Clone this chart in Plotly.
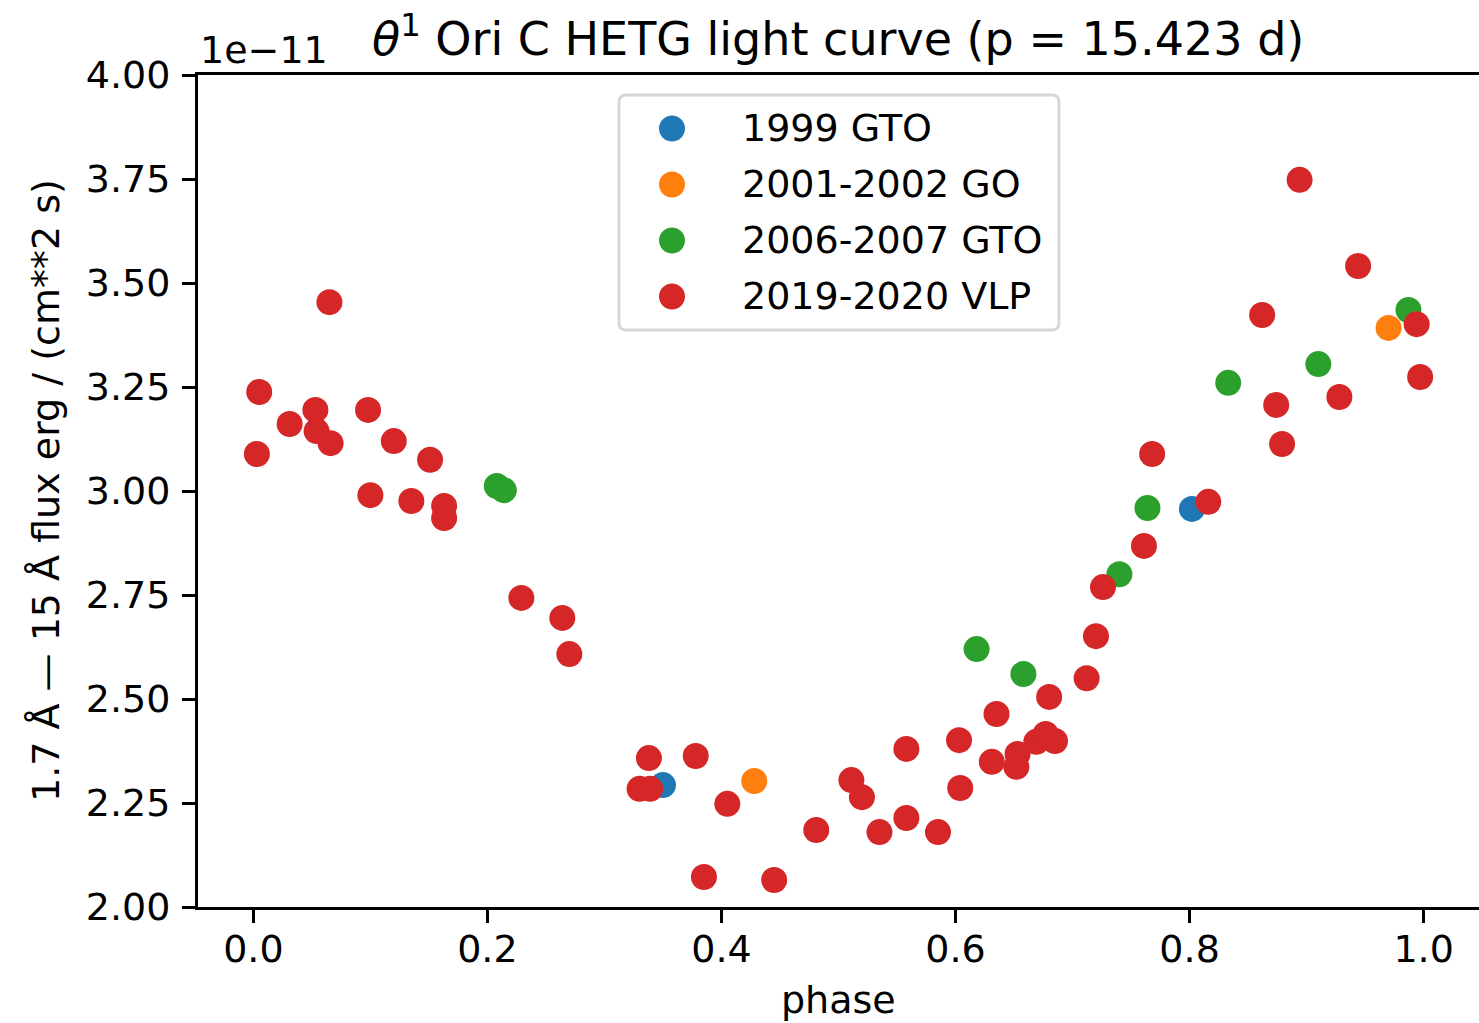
import plotly.graph_objects as go

# ---------------- data (flux in units of 1e-11 erg / (cm**2 s)) ----------------
groups = ["1999 GTO", "2001-2002 GO", "2006-2007 GTO", "2019-2020 VLP"]
colors = ["#1f77b4", "#ff7f0e", "#2ca02c", "#d62728"]

phase_1999 = [0.350, 0.802]
flux_1999 = [2.293, 2.957]

phase_2001 = [0.428, 0.970]
flux_2001 = [2.303, 3.392]

phase_2006 = [0.208, 0.214, 0.618, 0.658, 0.740, 0.764, 0.833, 0.910, 0.987]
flux_2006 = [3.012, 3.002, 2.620, 2.560, 2.800, 2.959, 3.260, 3.305, 3.435]

phase_2019 = [0.003, 0.005, 0.031, 0.053, 0.054, 0.065, 0.066, 0.098, 0.100, 0.120,
              0.135, 0.151, 0.163, 0.163, 0.229, 0.264, 0.270, 0.330, 0.338, 0.339,
              0.378, 0.385, 0.405, 0.445, 0.481, 0.511, 0.520, 0.535, 0.558, 0.558,
              0.585, 0.603, 0.604, 0.631, 0.635, 0.653, 0.652, 0.669, 0.677, 0.680,
              0.685, 0.712, 0.720, 0.726, 0.761, 0.768, 0.816, 0.862, 0.874, 0.879,
              0.894, 0.928, 0.944, 0.994, 0.997]
flux_2019 = [3.089, 3.238, 3.161, 3.195, 3.144, 3.454, 3.115, 3.195, 2.990, 3.120,
             2.976, 3.075, 2.964, 2.935, 2.743, 2.695, 2.608, 2.284, 2.358, 2.284,
             2.363, 2.072, 2.248, 2.065, 2.185, 2.305, 2.264, 2.180, 2.214, 2.380,
             2.180, 2.401, 2.286, 2.349, 2.464, 2.368, 2.337, 2.397, 2.416, 2.505,
             2.399, 2.550, 2.651, 2.769, 2.868, 3.089, 2.974, 3.423, 3.207, 3.113,
             3.748, 3.226, 3.541, 3.401, 3.274]

phases = [phase_1999, phase_2001, phase_2006, phase_2019]
fluxes = [flux_1999, flux_2001, flux_2006, flux_2019]

x_ticks = [0.0, 0.2, 0.4, 0.6, 0.8, 1.0]
y_ticks = [2.00, 2.25, 2.50, 2.75, 3.00, 3.25, 3.50, 3.75, 4.00]

# ---------------- layout geometry ----------------
FIG_W, FIG_H = 1479, 1023
L, T, R, B = 198, 75, 0, 116
W = FIG_W - L - R
H = FIG_H - T - B
FONT = "DejaVu Sans"
FS = 38
FS_TITLE = 46

def px(x):
    return (x - L) / W

def py(y):
    return (T + H - y) / H

fig = go.Figure()
for name, col, xs, ys in zip(groups, colors, phases, fluxes):
    fig.add_trace(go.Scatter(
        x=xs, y=ys, mode="markers", name=name, showlegend=False,
        marker=dict(color=col, size=26, line=dict(width=0)),
        cliponaxis=False,
    ))

axis_common = dict(
    showline=True, linecolor="black", linewidth=3,
    ticks="outside", ticklen=13, tickwidth=3, tickcolor="black",
    showgrid=False, zeroline=False,
    tickfont=dict(family=FONT, size=FS, color="black"),
)
fig.update_xaxes(range=[-0.0473, 1.0473], tickvals=x_ticks,
                 ticktext=[f"{v:.1f}" for v in x_ticks], mirror=True,
                 ticklabelstandoff=-7, **axis_common)
fig.update_yaxes(range=[2.0, 4.0], tickvals=y_ticks,
                 ticktext=[f"{v:.2f}" for v in y_ticks],
                 ticklabelstandoff=4, **axis_common)

shapes = []
annotations = []

# legend frame (rounded rectangle)
lx0, lx1, ly0, ly1, r = 619, 1059, 95, 330, 7
path = (f"M {px(lx0 + r)},{py(ly0)} L {px(lx1 - r)},{py(ly0)} "
        f"Q {px(lx1)},{py(ly0)} {px(lx1)},{py(ly0 + r)} "
        f"L {px(lx1)},{py(ly1 - r)} Q {px(lx1)},{py(ly1)} {px(lx1 - r)},{py(ly1)} "
        f"L {px(lx0 + r)},{py(ly1)} Q {px(lx0)},{py(ly1)} {px(lx0)},{py(ly1 - r)} "
        f"L {px(lx0)},{py(ly0 + r)} Q {px(lx0)},{py(ly0)} {px(lx0 + r)},{py(ly0)} Z")
shapes.append(dict(type="path", xref="paper", yref="paper", path=path,
                   line=dict(color="#d6d6d6", width=2.8), fillcolor="white",
                   layer="above"))
for i, (name, col) in enumerate(zip(groups, colors)):
    cy = 128.5 + 56 * i
    shapes.append(dict(type="circle", xref="paper", yref="paper",
                       xsizemode="pixel", ysizemode="pixel",
                       xanchor=px(672), yanchor=py(cy),
                       x0=-13, x1=13, y0=-13, y1=13,
                       fillcolor=col, line=dict(width=0), layer="above"))
    annotations.append(dict(text=name, xref="paper", yref="paper",
                            x=px(740), y=py(cy - 1), xanchor="left", yanchor="middle",
                            showarrow=False,
                            font=dict(family=FONT, size=FS, color="black")))

# title
annotations.append(dict(text="<i>θ</i><sup>1</sup> Ori C HETG light curve (p = 15.423 d)",
                        xref="paper", yref="paper", x=px(838), y=py(36),
                        xanchor="center", yanchor="middle", showarrow=False,
                        font=dict(family=FONT, size=FS_TITLE, color="black")))
# offset text
annotations.append(dict(text="1e−11", xref="paper", yref="paper",
                        x=px(198), y=py(50), xanchor="left", yanchor="middle",
                        showarrow=False, font=dict(family=FONT, size=FS, color="black")))
# y label
annotations.append(dict(text="1.7 Å — 15 Å flux erg / (cm**2 s)", xref="paper", yref="paper",
                        x=px(46), y=py(491), xanchor="center", yanchor="middle",
                        textangle=-90, showarrow=False,
                        font=dict(family=FONT, size=FS, color="black")))
# x label
annotations.append(dict(text="phase", xref="paper", yref="paper",
                        x=px(838), y=py(1000), xanchor="center", yanchor="middle",
                        showarrow=False, font=dict(family=FONT, size=FS, color="black")))

fig.update_layout(
    width=FIG_W, height=FIG_H,
    margin=dict(l=L, r=R, t=T, b=B, pad=0),
    paper_bgcolor="white", plot_bgcolor="white",
    showlegend=False, shapes=shapes, annotations=annotations,
    font=dict(family=FONT, color="black"),
)

fig.write_html("out.html")
